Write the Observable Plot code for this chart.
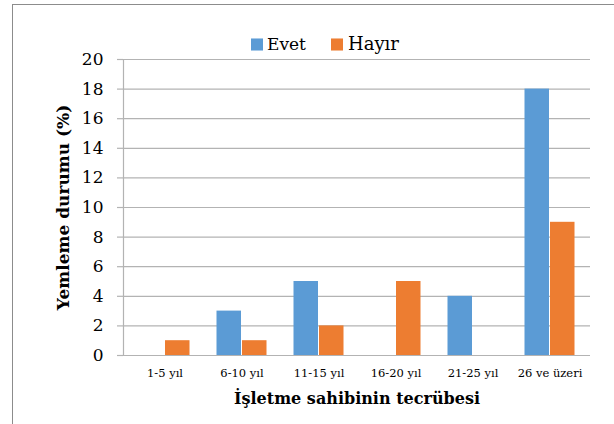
<!DOCTYPE html>
<html>
<head>
<meta charset="utf-8">
<script src="https://cdn.jsdelivr.net/npm/d3@7"></script>
<script src="https://cdn.jsdelivr.net/npm/@observablehq/plot@0.6"></script>
<style>
  html, body { margin: 0; padding: 0; background: #fff; }
  #wrap { position: relative; width: 614px; height: 424px; overflow: hidden; }
  #border { position: absolute; left: 12px; top: 4px; width: 700px; height: 500px; border: 1.5px solid #8c8c8c; box-sizing: border-box; pointer-events: none; }
  #chart { position: absolute; left: 0; top: 0; }
</style>
</head>
<body>
<div id="wrap"><div id="chart"></div><div id="border"></div></div>
<script>
const categories = ["1-5 yıl", "6-10 yıl", "11-15 yıl", "16-20 yıl", "21-25 yıl", "26 ve üzeri"];
const series = ["Evet", "Hayır"];
const evet = [0, 3, 5, 0, 4, 18];
const hayir = [1, 1, 2, 5, 0, 9];
const yTicks = [0, 2, 4, 6, 8, 10, 12, 14, 16, 18, 20];
const colors = ["#5B9BD5", "#ED7D31"];
const yTitle = "Yemleme durumu (%)";
const xTitle = "İşletme sahibinin tecrübesi";

const evetData = categories.map((c, i) => ({cat: c, series: series[0], value: evet[i]}));
const hayirData = categories.map((c, i) => ({cat: c, series: series[1], value: hayir[i]}));

const gray = "#b3b3b3";
const font = "DejaVu Serif";

const chart = Plot.plot({
  width: 614,
  height: 424,
  marginLeft: 123,
  marginRight: 24,
  marginTop: 59,
  marginBottom: 69,
  style: {fontFamily: font, background: "transparent", color: "#000"},
  x: {domain: categories, padding: 0, label: null},
  y: {domain: [0, 20], label: null},
  color: {domain: series, range: colors},
  marks: [
    Plot.gridY(yTicks, {stroke: gray, strokeOpacity: 1, strokeWidth: 1.2}),
    Plot.axisY(yTicks, {tickSize: 6, tickPadding: 14, stroke: gray, strokeWidth: 1.2, fill: "#000", fontSize: 17, label: null}),
    Plot.frame({anchor: "left", stroke: gray, strokeWidth: 1.2}),
    Plot.barY(evetData, {x: "cat", y: "value", fill: "series", insetLeft: 13.5, insetRight: 39}),
    Plot.barY(hayirData, {x: "cat", y: "value", fill: "series", insetLeft: 39, insetRight: 13.5}),
    Plot.axisX({tickSize: 0, tickPadding: 13, fontSize: 11.5, fill: "#000", label: null}),
    Plot.text([yTitle], {frameAnchor: "left", rotate: -90, dx: -60, textAnchor: "middle", lineAnchor: "middle", fontSize: 17, fontWeight: "bold", fill: "#000"}),
    Plot.text([xTitle], {frameAnchor: "bottom", dy: 48, fontSize: 16, fontWeight: "bold", fill: "#000"}),
    Plot.dot([series[0]], {frameAnchor: "top", dx: -100, dy: -15, symbol: "square", r: 6.8, fill: colors[0]}),
    Plot.text([series[0]], {frameAnchor: "top", dx: -90, dy: -15, textAnchor: "start", lineAnchor: "middle", fontSize: 17, fill: "#000"}),
    Plot.dot([series[1]], {frameAnchor: "top", dx: -20, dy: -15, symbol: "square", r: 6.8, fill: colors[1]}),
    Plot.text([series[1]], {frameAnchor: "top", dx: -9, dy: -15, textAnchor: "start", lineAnchor: "middle", fontSize: 18, fill: "#000"})
  ]
});
document.getElementById("chart").appendChild(chart);
</script>
</body>
</html>
